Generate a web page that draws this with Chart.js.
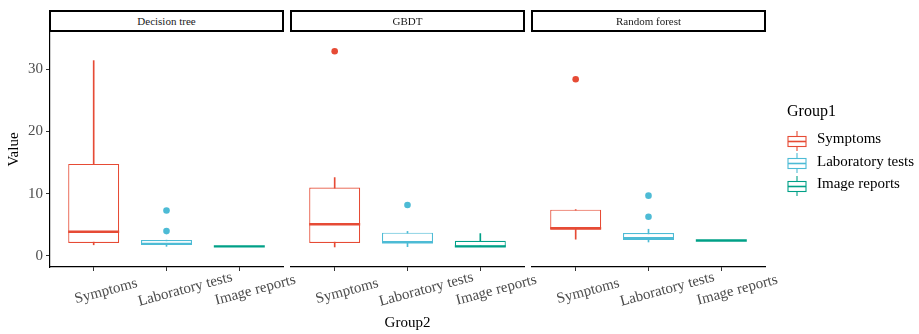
<!DOCTYPE html>
<html>
<head>
<meta charset="utf-8">
<script src="https://cdn.jsdelivr.net/npm/chart.js@4.4.0/dist/chart.umd.min.js"></script>
<style>
  body { margin: 0; background: #fff; font-family: 'Liberation Serif', serif; }
  #wrap { position: relative; width: 919px; height: 334px; overflow: hidden; }
  #wrap canvas { position: absolute; left: 0; top: 0; }
  .strip { position: absolute; top: 10px; height: 22px; width: 235px; box-sizing: border-box;
           border: 2px solid #000; font-size: 11px; color: #1a1a1a; text-align: center; line-height: 18px; background: #fff; }
  .legtitle { position: absolute; left: 787px; top: 103px; font-size: 16px; line-height: 16px; color: #000; }
  .legitem { position: absolute; left: 787px; height: 20px; font-size: 15px; line-height: 15px; color: #000; }
  .legitem svg { position: absolute; left: 0; top: -0.5px; }
  .legitem span { position: absolute; left: 30px; top: 0; white-space: nowrap; }
</style>
</head>
<body>
<div id="wrap">
  <canvas id="c1" width="919" height="334"></canvas>
  <canvas id="c2" width="919" height="334"></canvas>
  <canvas id="c3" width="919" height="334"></canvas>
  <div id="strips"></div>
  <div id="legend"></div>
</div>
<script>
const facets = ['Decision tree', 'GBDT', 'Random forest'];
const groups = ['Symptoms', 'Laboratory tests', 'Image reports'];
const colors = ['#E64B35', '#4DBBD5', '#00A087'];

// [lower whisker, Q1, median, Q3, upper whisker] for each group
const treeStats = [[1.8, 2.1, 3.9, 14.8, 31.4], [1.55, 1.85, 1.95, 2.55, 2.55], [1.55, 1.55, 1.55, 1.55, 1.55]];
const treeOutliers = [[], [4.0, 7.3], []];
const gbdtStats = [[1.45, 2.1, 5.1, 11.0, 12.6], [1.5, 2.15, 2.2, 3.75, 3.95], [1.5, 1.5, 1.55, 2.45, 3.6]];
const gbdtOutliers = [[32.9], [8.2], []];
const forestStats = [[2.7, 4.2, 4.45, 7.45, 7.45], [2.25, 2.55, 2.85, 3.7, 4.3], [2.5, 2.5, 2.5, 2.5, 2.5]];
const forestOutliers = [[28.4], [6.3, 9.7], []];
const yTicks = [0, 10, 20, 30];

const serif = "'Liberation Serif', 'Times New Roman', serif";

// panel areas in page pixels: [left, right]
const panels = [[50, 283], [291, 524], [532, 765]];

function boxDatasets(stats, outliers) {
  const sets = [];
  stats.forEach((s, g) => {
    const x = g + 1;
    sets.push({ type: 'bar', data: [{ x: x, y: [s[0], s[4]] }], backgroundColor: colors[g],
      barThickness: 1, grouped: false, order: 3 });
    sets.push({ type: 'bar', data: [{ x: x, y: [s[1], s[3]] }], backgroundColor: '#fff',
      borderColor: colors[g], borderWidth: 1.2, borderSkipped: false, grouped: false,
      categoryPercentage: 1, barPercentage: 0.7, order: 2 });
    sets.push({ type: 'line', data: [{ x: x - 0.35, y: s[2] }, { x: x + 0.35, y: s[2] }],
      borderColor: colors[g], borderWidth: 2.4, pointRadius: 0, order: 1 });
    sets.push({ type: 'scatter', data: outliers[g].map(v => ({ x: x, y: v })),
      backgroundColor: colors[g], borderWidth: 0, pointRadius: 3.3, order: 0 });
  });
  return sets;
}

// rotated category labels under each panel
const xLabels = {
  id: 'xLabels',
  afterDraw(chart) {
    const ctx = chart.ctx, sc = chart.scales.x;
    ctx.save();
    ctx.font = '15px ' + serif;
    ctx.fillStyle = '#4D4D4D';
    ctx.textBaseline = 'middle';
    ctx.textAlign = 'left';
    groups.forEach((g, i) => {
      const w = ctx.measureText(g).width;
      ctx.save();
      ctx.translate(sc.getPixelForValue(i + 1), sc.top + 27.5);
      ctx.rotate(-15 * Math.PI / 180);
      ctx.fillText(g, -0.3 * w, 0);
      ctx.restore();
    });
    ctx.restore();
  }
};

function makePanel(id, stats, outliers, idx) {
  const first = idx === 0;
  const area = panels[idx];
  new Chart(document.getElementById(id), {
    type: 'bar',
    data: { datasets: boxDatasets(stats, outliers) },
    options: {
      responsive: false,
      animation: false,
      events: [],
      layout: { padding: { left: first ? 0 : area[0], right: 919 - area[1], top: 32, bottom: 0 } },
      plugins: { legend: { display: false }, tooltip: { enabled: false } },
      scales: {
        x: {
          type: 'linear', min: 0.4, max: 3.6, offset: false,
          afterBuildTicks: s => { s.ticks = [1, 2, 3].map(v => ({ value: v })); },
          afterFit: s => { s.height = 67; },
          ticks: { display: false },
          grid: { offset: false, drawOnChartArea: false, tickLength: 4, tickColor: '#333', tickWidth: 1 },
          border: { color: '#000', width: 1.2 },
          title: { display: idx === 1, text: 'Group2', color: '#000',
                   font: { family: serif, size: 15 }, padding: { top: 0, bottom: 1.5 } }
        },
        y: {
          display: first, min: -1.77, max: 36,
          afterBuildTicks: s => { s.ticks = yTicks.map(v => ({ value: v })); },
          afterFit: s => { s.width = first ? 50 : 0; },
          ticks: { color: '#4D4D4D', font: { family: serif, size: 15 }, padding: 3 },
          grid: { drawOnChartArea: false, tickLength: 4, tickColor: '#333', tickWidth: 1 },
          border: { color: '#000', width: 1.2 },
          title: { display: first, text: 'Value', color: '#000',
                   font: { family: serif, size: 15 }, padding: { top: 5, bottom: 0 } }
        }
      }
    },
    plugins: [xLabels]
  });
}

makePanel('c1', treeStats, treeOutliers, 0);
makePanel('c2', gbdtStats, gbdtOutliers, 1);
makePanel('c3', forestStats, forestOutliers, 2);

// facet strips
const strips = document.getElementById('strips');
facets.forEach((f, i) => {
  const d = document.createElement('div');
  d.className = 'strip';
  d.style.left = (panels[i][0] - 1) + 'px';
  d.textContent = f;
  strips.appendChild(d);
});

// legend
const legend = document.getElementById('legend');
const t = document.createElement('div');
t.className = 'legtitle';
t.textContent = 'Group1';
legend.appendChild(t);
groups.forEach((g, i) => {
  const d = document.createElement('div');
  d.className = 'legitem';
  d.style.top = (131 + i * 22.5) + 'px';
  const c = colors[i];
  d.innerHTML = '<svg width="20" height="20" viewBox="0 0 20 20">' +
    '<line x1="10" y1="0" x2="10" y2="5.5" stroke="' + c + '" stroke-width="1.1"/>' +
    '<line x1="10" y1="15.5" x2="10" y2="20" stroke="' + c + '" stroke-width="1.1"/>' +
    '<rect x="1" y="5.5" width="18" height="10" fill="#fff" stroke="' + c + '" stroke-width="1.1"/>' +
    '<line x1="1" y1="10.5" x2="19" y2="10.5" stroke="' + c + '" stroke-width="1.6"/>' +
    '</svg><span>' + g + '</span>';
  legend.appendChild(d);
});
</script>
</body>
</html>
